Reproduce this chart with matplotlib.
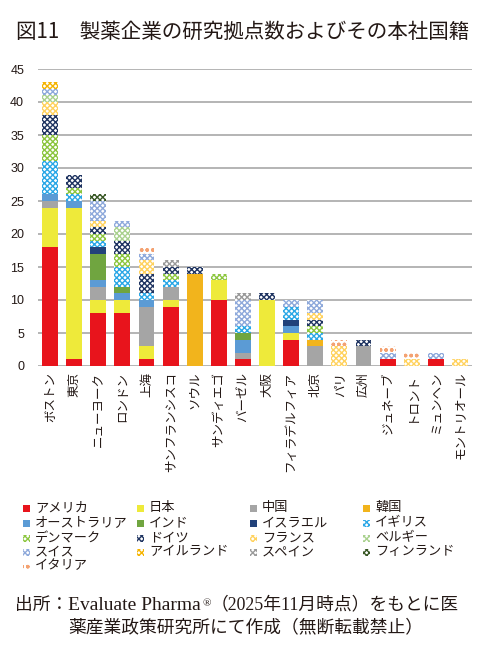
import matplotlib
matplotlib.use("Agg")
import matplotlib.pyplot as plt
from matplotlib.patches import Rectangle
from matplotlib.text import Annotation
import numpy as np

plt.rcParams['font.family'] = ['Noto Sans CJK JP', 'DejaVu Sans']
plt.rcParams['hatch.linewidth'] = 1.0

cities = ["ボストン", "東京", "ニューヨーク", "ロンドン", "上海", "サンフランシスコ",
          "ソウル", "サンディエゴ", "バーゼル", "大阪", "フィラデルフィア", "北京",
          "パリ", "広州", "ジュネーブ", "トロント", "ミュンヘン", "モントリオール"]

usa         = [18, 1, 8, 8, 1, 9, 0, 10, 1, 0, 4, 0, 0, 0, 1, 0, 1, 0]
japan       = [6, 23, 2, 2, 2, 1, 0, 3, 0, 10, 1, 0, 0, 0, 0, 0, 0, 0]
china       = [1, 0, 2, 0, 6, 2, 0, 0, 1, 0, 0, 3, 0, 3, 0, 0, 0, 0]
korea       = [0, 0, 0, 0, 0, 0, 14, 0, 0, 0, 0, 1, 0, 0, 0, 0, 0, 0]
australia   = [1, 1, 1, 1, 1, 0, 0, 0, 2, 0, 1, 0, 0, 0, 0, 0, 0, 0]
india       = [0, 0, 4, 1, 0, 0, 0, 0, 1, 0, 0, 0, 0, 0, 0, 0, 0, 0]
israel      = [0, 0, 1, 0, 0, 0, 0, 0, 0, 0, 1, 0, 0, 0, 0, 0, 0, 0]
uk          = [5, 1, 1, 3, 1, 1, 0, 0, 1, 0, 2, 1, 0, 0, 0, 0, 0, 0]
denmark     = [4, 1, 1, 2, 0, 1, 0, 1, 0, 0, 0, 1, 0, 0, 0, 0, 0, 0]
germany     = [3, 2, 1, 2, 3, 1, 1, 0, 0, 1, 0, 1, 0, 1, 0, 0, 0, 0]
france      = [2, 0, 1, 0, 2, 0, 0, 0, 0, 0, 0, 1, 3, 0, 0, 1, 0, 1]
belgium     = [1, 0, 0, 2, 0, 0, 0, 0, 0, 0, 0, 0, 0, 0, 0, 0, 0, 0]
switzerland = [1, 0, 3, 1, 1, 0, 0, 0, 4, 0, 1, 2, 0, 0, 1, 0, 1, 0]
ireland     = [1, 0, 0, 0, 0, 0, 0, 0, 0, 0, 0, 0, 0, 0, 0, 0, 0, 0]
spain       = [0, 0, 0, 0, 0, 1, 0, 0, 1, 0, 0, 0, 0, 0, 0, 0, 0, 0]
finland     = [0, 0, 1, 0, 0, 0, 0, 0, 0, 0, 0, 0, 0, 0, 0, 0, 0, 0]
italy       = [0, 0, 0, 0, 1, 0, 0, 0, 0, 0, 0, 0, 1, 0, 1, 1, 0, 0]

series_names = ["アメリカ", "日本", "中国", "韓国", "オーストラリア", "インド", "イスラエル",
                "イギリス", "デンマーク", "ドイツ", "フランス", "ベルギー", "スイス",
                "アイルランド", "スペイン", "フィンランド", "イタリア"]
series_values = [usa, japan, china, korea, australia, india, israel, uk, denmark, germany,
                 france, belgium, switzerland, ireland, spain, finland, italy]
colors = ["#E8141C", "#EEEA3A", "#A5A5A5", "#F2B41C", "#5B9BD5", "#70A540", "#22427A",
          "#2AA7E6", "#8CC63F", "#1F3461", "#FFD25E", "#A9D18E", "#8EA9DB",
          "#F5B400", "#9A9A9A", "#375623", "#F4A272"]
hatches = [None, None, None, None, None, None, None,
           "xxxxxx", "xxxxxx", "xxxxxx", "xxxxxx", "xxxxxx", "xxxxxx",
           "xxxxxx", "xxxxxx", "xxxxxx", "ooo"]
yticks = [0, 5, 10, 15, 20, 25, 30, 35, 40, 45]

W, H = 500, 664
fig = plt.figure(figsize=(W / 100, H / 100), dpi=100)
ax = fig.add_axes([38 / W, 1 - 366 / H, 434 / W, (366 - 69) / H])

x = np.arange(len(cities))
bottom = np.zeros(len(cities))
for name, vals, col, hat in zip(series_names, series_values, colors, hatches):
    vals = np.array(vals, dtype=float)
    if hat is None:
        ax.bar(x, vals, bottom=bottom, width=0.66, color=col, linewidth=0, zorder=3)
    else:
        ax.bar(x, vals, bottom=bottom, width=0.66, facecolor="white", edgecolor=col,
               hatch=hat, linewidth=0, zorder=3)
    bottom += vals

ax.set_xlim(-0.5, len(cities) - 0.5)
ax.set_ylim(0, 45)
ax.set_yticks(yticks)
ax.set_yticklabels([str(t) for t in yticks], fontsize=9, color="#231815",
                   family=["Liberation Sans Narrow", "Liberation Sans", "DejaVu Sans"])
ax.yaxis.grid(True, color="#A8A8A8", linewidth=1.2, zorder=0)
ax.set_axisbelow(True)
for s in ax.spines.values():
    s.set_visible(False)
ax.tick_params(axis="y", length=0, pad=10)
ax.tick_params(axis="x", length=0, pad=4)
ax.set_xticks(x)
ax.set_xticklabels(cities, rotation=90, fontsize=9, color="#231815", va="top", ha="center")

# Title
fig.text(16 / W, 1 - 32 / H, "図11　製薬企業の研究拠点数およびその本社国籍", fontsize=14.8,
         color="#231815", ha="left", va="center")

# Legend (row-major, 4 columns)
col_x = [23, 137, 250, 363]
row_y = [508, 523, 538, 552, 566]
for i, (name, col, hat) in enumerate(zip(series_names, colors, hatches)):
    r, c = divmod(i, 4)
    lx, ly = col_x[c], row_y[r]
    if hat is None:
        rect = Rectangle((lx / W, 1 - (ly + 3.5) / H), 7 / W, 7 / H, transform=fig.transFigure,
                         facecolor=col, linewidth=0)
    else:
        rect = Rectangle((lx / W, 1 - (ly + 3.5) / H), 7 / W, 7 / H, transform=fig.transFigure,
                         facecolor="white", edgecolor=col, hatch=hat, linewidth=0)
    fig.add_artist(rect)
    fig.text((lx + 12) / W, 1 - ly / H, name, fontsize=9.5, color="#231815",
             ha="left", va="center")

# Source note
note_fam = ["Liberation Serif", "Noto Sans CJK JP"]
t1 = fig.text(15 / W, 1 - 605 / H, "出所：", fontsize=12.8, color="#231815",
              ha="left", va="center", family=note_fam)
t1b = fig.add_artist(Annotation("Evaluate Pharma", xy=(1.0, 0.5), xycoords=t1,
                                xytext=(0, 0), textcoords="offset points",
                                fontsize=14, color="#231815", ha="left", va="center",
                                family=note_fam))
a2 = fig.add_artist(Annotation("®", xy=(1.0, 0.85), xycoords=(t1b, t1),
                               xytext=(1, 0), textcoords="offset points",
                               fontsize=8, color="#231815", ha="left", va="top",
                               family=note_fam))
a3 = fig.add_artist(Annotation("（2025年11月時点）をもとに医", xy=(1.0, 0.5),
                               xycoords=(a2, t1), xytext=(0, 0), textcoords="offset points",
                               fontsize=12.8, color="#231815", ha="left", va="center",
                               family=note_fam))
fig.text(68 / W, 1 - 628 / H, "薬産業政策研究所にて作成（無断転載禁止）",
         fontsize=12.8, color="#231815", ha="left", va="center", family=note_fam)

fig.savefig("out.png", dpi=100, facecolor="white")
